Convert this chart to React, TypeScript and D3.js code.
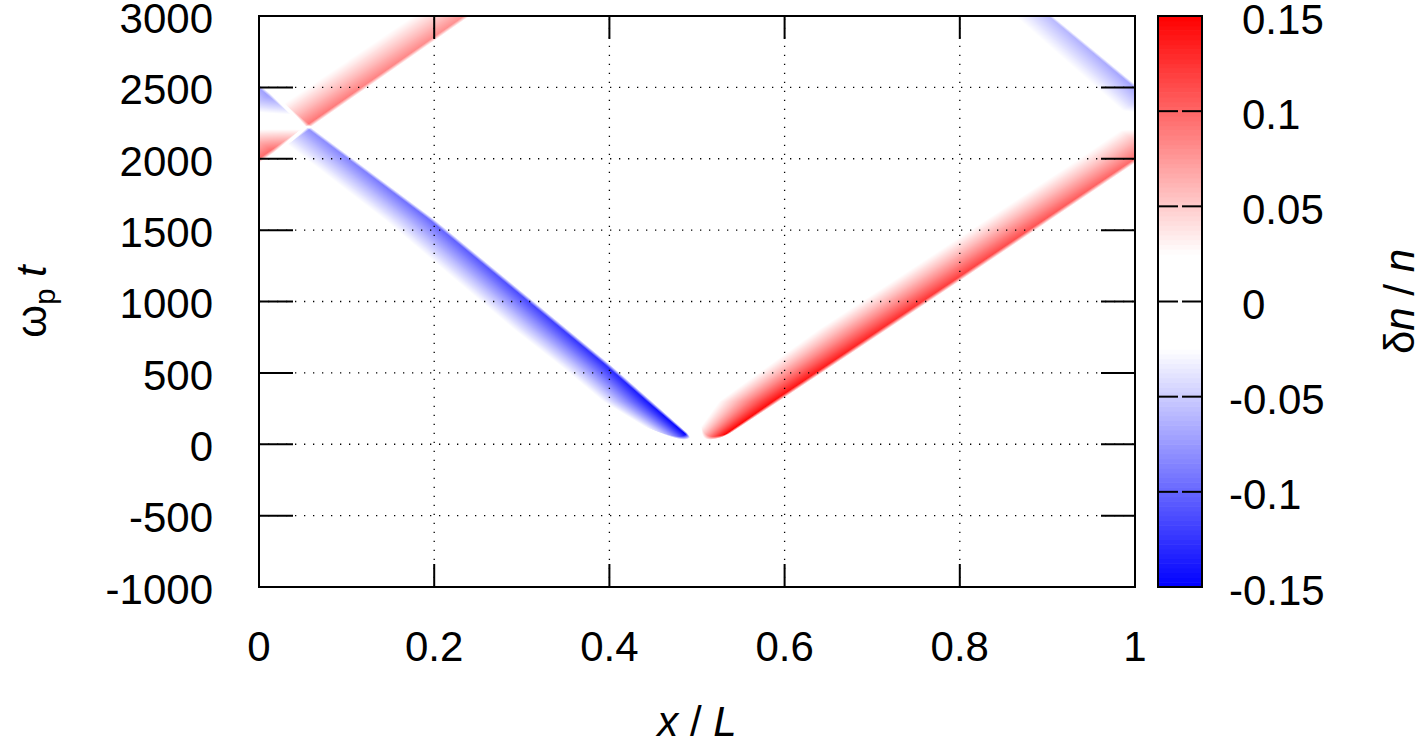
import React, { useMemo } from "react";
import * as d3 from "d3";

// axis ticks
const xTicks = [0, 0.2, 0.4, 0.6, 0.8, 1];
const xTickLabels = ["0", "0.2", "0.4", "0.6", "0.8", "1"];
const tTicks = [-1000, -500, 0, 500, 1000, 1500, 2000, 2500, 3000];
const tTickLabels = ["-1000", "-500", "0", "500", "1000", "1500", "2000", "2500", "3000"];
const cbTicks = [-0.15, -0.1, -0.05, 0, 0.05, 0.1, 0.15];
const cbTickLabels = ["-0.15", "-0.1", "-0.05", "0", "0.05", "0.1", "0.15"];

// rarefaction pulse (blue, moving left): x of its sharp rear edge at times t (unwrapped)
const blueEdgeT = [30, 555, 1570, 2222, 2520, 3000];
const blueEdgeX = [0.497, 0.4, 0.2, 0.058, 0.0, -0.094];
// compression pulse (red, moving right): x of its sharp front edge
const redEdgeT = [40, 1151, 1976, 3000];
const redEdgeX = [0.528, 0.8, 1.0, 1.24];

// peak amplitude of |dn/n| over time
const ampT = [40, 500, 1000, 1500, 2000, 2500, 3000];
const blueAmp = [0.15, 0.13, 0.115, 0.1, 0.085, 0.07, 0.058];
const redAmp = [0.15, 0.138, 0.124, 0.11, 0.097, 0.087, 0.078];

// pulse widths in x/L while the pulses form and afterwards
const widthT = [30, 300, 800];
const blueWidth = [0.04, 0.07, 0.08];
const redWidth = [0.04, 0.085, 0.1];

// time at which the pulses appear
const startT = 25;

const W = 1421;
const H = 750;
const plot = { x0: 259, x1: 1135, y0: 16, y1: 587 };
const cbox = { x0: 1158, x1: 1202 };
const font = "'Liberation Sans', Arial, Helvetica, sans-serif";
const fs = 42;

const profile = (u: number) => {
  if (u < -0.04 || u > 1) return 0;
  if (u < 0.06) return (u + 0.04) / 0.1;
  return Math.pow((1 - u) / 0.94, 1.2);
};

// rounded start of a pulse
const capEnv = (u: number, t: number) => {
  const q = Math.max(-1, Math.min(1, (u - 0.3) / 0.7));
  const t0 = startT + 250 * (1 - Math.sqrt(1 - q * q));
  return Math.max(0, Math.min(1, (t - t0) / 30));
};

const wrap = (d: number) => ((((d + 0.5) % 1) + 1) % 1) - 0.5;

export default function App() {
  const xScale = d3.scaleLinear().domain([0, 1]).range([plot.x0, plot.x1]);
  const tScale = d3.scaleLinear().domain([-1000, 3000]).range([plot.y1, plot.y0]);
  const cbScale = d3.scaleLinear().domain([-0.15, 0.15]).range([plot.y1, plot.y0]);
  const color = d3
    .scaleLinear<string>()
    .domain([-0.15, -0.025, 0.025, 0.15])
    .range(["#0000ff", "#ffffff", "#ffffff", "#ff0000"])
    .clamp(true);

  const href = useMemo(() => {
    const w = plot.x1 - plot.x0;
    const h = plot.y1 - plot.y0;
    const canvas = document.createElement("canvas");
    canvas.width = w;
    canvas.height = h;
    const ctx = canvas.getContext("2d");
    if (!ctx) return "";
    const img = ctx.createImageData(w, h);

    const blueEdge = d3.scaleLinear().domain(blueEdgeT).range(blueEdgeX);
    const redEdge = d3.scaleLinear().domain(redEdgeT).range(redEdgeX);
    const blueA = d3.scaleLinear().domain(ampT).range(blueAmp).clamp(true);
    const redA = d3.scaleLinear().domain(ampT).range(redAmp).clamp(true);
    const blueW = d3.scaleLinear().domain(widthT).range(blueWidth).clamp(true);
    const redW = d3.scaleLinear().domain(widthT).range(redWidth).clamp(true);

    // colour lookup table
    const lutN = 600;
    const lut = d3.range(lutN + 1).map((k) => d3.rgb(color(-0.15 + (0.3 * k) / lutN)));

    for (let j = 0; j < h; j++) {
      const t = tScale.invert(plot.y0 + j + 0.5);
      const xb = blueEdge(t);
      const xr = redEdge(t);
      const ab = blueA(t);
      const ar = redA(t);
      const wb = blueW(t);
      const wr = redW(t);
      for (let i = 0; i < w; i++) {
        const x = xScale.invert(plot.x0 + i + 0.5);
        let v = 0;
        if (t > startT) {
          const ub = wrap(xb - x) / wb;
          const ur = wrap(xr - x) / wr;
          v -= ab * profile(ub) * capEnv(ub, t);
          v += ar * profile(ur) * capEnv(ur, t);
        }
        const k = Math.max(0, Math.min(lutN, Math.round(((v + 0.15) / 0.3) * lutN)));
        const c = lut[k];
        const p = (j * w + i) * 4;
        img.data[p] = c.r;
        img.data[p + 1] = c.g;
        img.data[p + 2] = c.b;
        img.data[p + 3] = 255;
      }
    }
    ctx.putImageData(img, 0, 0);
    return canvas.toDataURL();
  }, []);

  const cbSteps = d3.range(-0.15, 0.15, 0.0025);

  return (
    <svg
      width={W}
      height={H}
      style={{ position: "absolute", left: 0, top: 0, background: "#fff" }}
      fontFamily={font}
      fontSize={fs}
    >
      <rect width={W} height={H} fill="#fff" />
      <image
        href={href}
        x={plot.x0}
        y={plot.y0}
        width={plot.x1 - plot.x0}
        height={plot.y1 - plot.y0}
        preserveAspectRatio="none"
      />

      {/* grid */}
      <g stroke="#000" strokeWidth={1.3} strokeDasharray="1.3 7.7">
        {xTicks.slice(1, -1).map((d) => (
          <line key={"gx" + d} x1={xScale(d)} x2={xScale(d)} y1={plot.y1} y2={plot.y0} />
        ))}
        {tTicks.slice(1, -1).map((d) => (
          <line key={"gy" + d} x1={plot.x0} x2={plot.x1} y1={tScale(d)} y2={tScale(d)} />
        ))}
      </g>

      {/* ticks */}
      <g stroke="#000" strokeWidth={2}>
        {xTicks.map((d) => (
          <g key={"tx" + d}>
            <line x1={xScale(d)} x2={xScale(d)} y1={plot.y1} y2={plot.y1 - 23} />
            <line x1={xScale(d)} x2={xScale(d)} y1={plot.y0} y2={plot.y0 + 23} />
          </g>
        ))}
        {tTicks.map((d) => (
          <g key={"ty" + d}>
            <line x1={plot.x0} x2={plot.x0 + 34} y1={tScale(d)} y2={tScale(d)} />
            <line x1={plot.x1} x2={plot.x1 - 34} y1={tScale(d)} y2={tScale(d)} />
          </g>
        ))}
      </g>
      <rect
        x={plot.x0}
        y={plot.y0}
        width={plot.x1 - plot.x0}
        height={plot.y1 - plot.y0}
        fill="none"
        stroke="#000"
        strokeWidth={2}
      />

      {/* tick labels */}
      {xTicks.map((d, i) => (
        <text key={"lx" + d} x={xScale(d)} y={661} textAnchor="middle">
          {xTickLabels[i]}
        </text>
      ))}
      {tTicks.map((d, i) => (
        <text key={"ly" + d} x={213} y={tScale(d)} dy="0.4em" textAnchor="end">
          {tTickLabels[i]}
        </text>
      ))}

      {/* colour box */}
      {cbSteps.map((d) => (
        <rect
          key={"cb" + d}
          x={cbox.x0}
          width={cbox.x1 - cbox.x0}
          y={cbScale(d + 0.0025)}
          height={cbScale(d) - cbScale(d + 0.0025) + 0.6}
          fill={color(d + 0.00125)}
        />
      ))}
      <g stroke="#000" strokeWidth={2}>
        {cbTicks.slice(1, -1).map((d) => (
          <g key={"ct" + d}>
            <line x1={cbox.x0} x2={cbox.x0 + 20} y1={cbScale(d)} y2={cbScale(d)} />
            <line x1={cbox.x1} x2={cbox.x1 - 20} y1={cbScale(d)} y2={cbScale(d)} />
          </g>
        ))}
      </g>
      <rect
        x={cbox.x0}
        y={plot.y0}
        width={cbox.x1 - cbox.x0}
        height={plot.y1 - plot.y0}
        fill="none"
        stroke="#000"
        strokeWidth={2}
      />
      {cbTicks.map((d, i) => (
        <text
          key={"lc" + d}
          x={1242}
          dx={d < 0 ? -13 : 0}
          y={cbScale(d)}
          dy="0.42em"
          textAnchor="start"
        >
          {cbTickLabels[i]}
        </text>
      ))}

      {/* axis titles */}
      <text x={(plot.x0 + plot.x1) / 2} y={736} textAnchor="middle">
        <tspan fontStyle="italic">x</tspan> / <tspan fontStyle="italic">L</tspan>
      </text>
      <text transform={`translate(46,${(plot.y0 + plot.y1) / 2}) rotate(-90)`} textAnchor="middle">
        ω<tspan fontSize={29} dy={9}>p</tspan>
        <tspan dy={-9}> </tspan>
        <tspan fontStyle="italic">t</tspan>
      </text>
      <text transform={`translate(1414,${(plot.y0 + plot.y1) / 2}) rotate(-90)`} textAnchor="middle">
        δ<tspan fontStyle="italic">n</tspan> / <tspan fontStyle="italic">n</tspan>
      </text>
    </svg>
  );
}
